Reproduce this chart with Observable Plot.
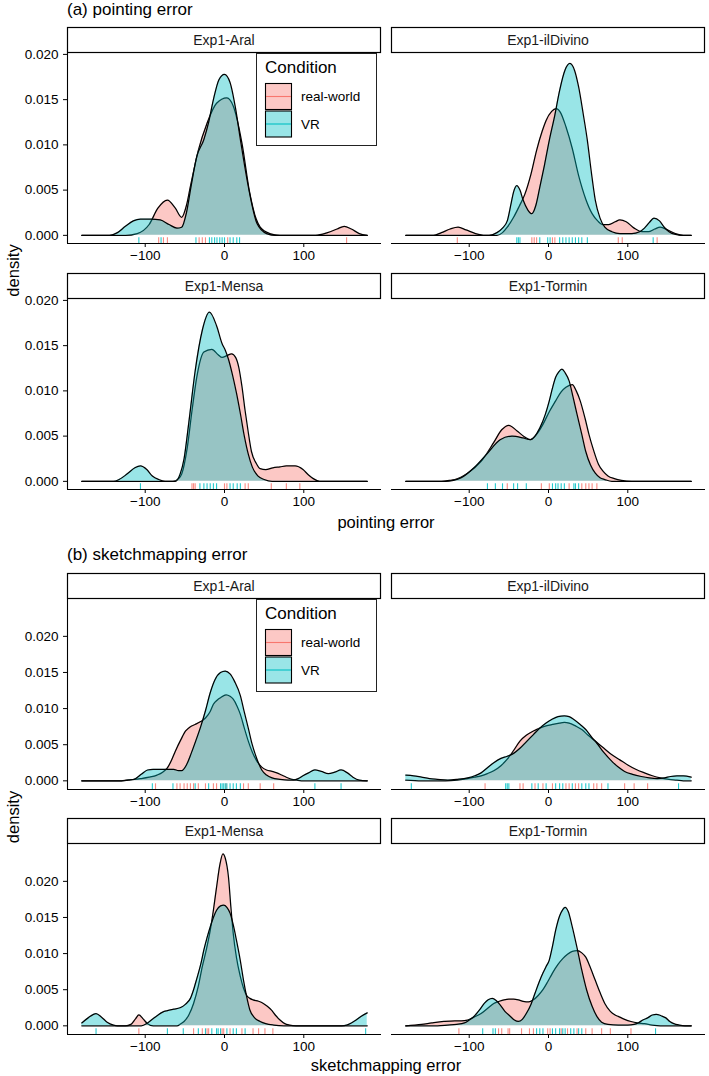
<!DOCTYPE html>
<html><head><meta charset="utf-8">
<script src="https://cdn.jsdelivr.net/npm/d3@7"></script>
<script src="https://cdn.jsdelivr.net/npm/@observablehq/plot@0.6"></script>
<style>
body{margin:0;background:#fff;}
#root{position:relative;width:709px;height:1076px;overflow:hidden;background:#fff;font-family:"Liberation Sans",Arial,Helvetica,sans-serif;}
.cell{position:absolute;}
#overlay{position:absolute;left:0;top:0;pointer-events:none;}
</style></head>
<body><div id="root"></div>
<script>
// ---------- data ----------
const sites = ["Exp1-Aral", "Exp1-ilDivino", "Exp1-Mensa", "Exp1-Tormin"];
const conditions = ["real-world", "VR"];
const conditionColors = ["#F8766D", "#00BFC4"];
const panelTitles = ["(a) pointing error", "(b) sketchmapping error"];
const xTitles = ["pointing error", "sketchmapping error"];
const yTitle = "density";
const xTicks = [-100, 0, 100];
const yTicks = [0, 0.005, 0.010, 0.015, 0.020];

// density curves: [error, density]
const pointingAralRW = [[-180,0],[-125,0],[-110,0.0002],[-95,0.0012],[-84,0.0030],[-72,0.0039],[-62,0.0030],[-54,0.0020],[-48,0.0033],[-43,0.0054],[-33,0.0094],[-22,0.0124],[-10,0.0146],[3,0.0152],[11,0.0143],[22,0.0102],[32,0.0046],[40,0.0018],[45,0.0009],[57,0.0002],[70,0],[115,0],[130,0.0003],[142,0.0007],[151,0.0010],[160,0.0007],[170,0.0002],[180,0]];
const pointingAralVR = [[-180,0],[-145,0],[-135,0.0003],[-125,0.0010],[-115,0.0016],[-106,0.0018],[-93,0.0018],[-81,0.0017],[-70,0.0012],[-60,0.0008],[-54,0.0009],[-48,0.0025],[-42,0.0055],[-35,0.0087],[-26,0.0106],[-20,0.0125],[-14,0.0150],[-7,0.0172],[0,0.0178],[7,0.0169],[14,0.0140],[20,0.0106],[30,0.0054],[41,0.0013],[53,0.0002],[65,0],[180,0]];
const pointingIlDivinoRW = [[-180,0],[-145,0],[-135,0.0003],[-124,0.0007],[-114,0.0009],[-104,0.0006],[-92,0.0002],[-80,0],[-65,0],[-58,0.0003],[-52,0.0009],[-44,0.0020],[-37,0.0032],[-30,0.0045],[-22,0.0068],[-15,0.0094],[-8,0.0115],[-3,0.0127],[4,0.0137],[9.5,0.0140],[15,0.0136],[22,0.0120],[30,0.0096],[38,0.0066],[47,0.0040],[55,0.0024],[62,0.0016],[68,0.0012],[76,0.0012],[84,0.0015],[90,0.0017],[98,0.0015],[108,0.0008],[118,0.0004],[126,0.0004],[134,0.0007],[141,0.0009],[150,0.0006],[160,0.0002],[170,0],[180,0]];
const pointingIlDivinoVR = [[-180,0],[-75,0],[-65,0.0003],[-58,0.0008],[-52,0.0016],[-47,0.0036],[-44,0.0048],[-40,0.0055],[-36,0.0050],[-32,0.0039],[-26,0.0028],[-21,0.0024],[-16,0.0033],[-11,0.0053],[-5,0.0078],[1,0.0105],[8,0.0133],[14,0.0160],[21,0.0183],[27,0.0190],[33,0.0182],[38,0.0164],[44,0.0133],[49,0.0105],[54,0.0070],[59,0.0039],[65,0.0019],[71,0.0009],[80,0.0004],[90,0.0002],[105,0.0002],[115,0.0004],[121,0.0008],[127,0.0014],[133,0.0019],[140,0.0016],[146,0.0009],[152,0.0004],[160,0.0001],[170,0],[180,0]];
const pointingMensaRW = [[-180,0],[-65,0],[-58,0.0003],[-54,0.0008],[-47,0.0037],[-41,0.0078],[-35,0.0115],[-26,0.0143],[-16,0.0146],[-8,0.0140],[-3,0.0137],[3,0.0139],[9,0.0141],[14,0.0137],[18,0.0126],[22,0.0105],[26,0.0078],[30,0.0054],[34,0.0033],[40,0.0020],[45,0.0014],[52,0.0013],[61,0.0015],[70,0.0016],[78,0.0017],[89,0.0017],[99,0.0013],[106,0.0007],[112,0.0003],[120,0],[180,0]];
const pointingMensaVR = [[-180,0],[-140,0],[-133,0.0002],[-123,0.0008],[-113,0.0015],[-106,0.0017],[-98,0.0013],[-91,0.0006],[-83,0.0002],[-75,0],[-62,0],[-56,0.0008],[-51,0.0025],[-45,0.0065],[-37,0.0122],[-28,0.0167],[-19,0.0187],[-10,0.0172],[-3,0.0152],[1,0.0145],[5,0.0135],[10,0.0118],[15,0.0098],[20,0.0075],[25,0.0050],[30,0.0030],[35,0.0016],[42,0.0006],[50,0.0002],[60,0],[180,0]];
const pointingTorminRW = [[-180,0],[-135,0],[-125,0.0001],[-118,0.0002],[-102,0.0009],[-85,0.0022],[-69,0.0043],[-59,0.0057],[-50,0.0062],[-40,0.0056],[-30,0.0049],[-23,0.0046],[-15,0.0052],[-7,0.0063],[1,0.0077],[9,0.0089],[16,0.0099],[22,0.0104],[30,0.0107],[35,0.0100],[40,0.0089],[46,0.0070],[51,0.0052],[57,0.0034],[63,0.0019],[69,0.0011],[75,0.0006],[83,0.0003],[92,0.0001],[105,0],[180,0]];
const pointingTorminVR = [[-180,0],[-130,0],[-120,0.0001],[-110,0.0004],[-94,0.0015],[-77,0.0031],[-61,0.0046],[-46,0.0050],[-32,0.0048],[-23,0.0046],[-11,0.0059],[-4,0.0074],[1,0.0089],[5,0.0103],[9,0.0115],[13,0.0121],[17,0.0124],[21,0.0120],[26,0.0111],[31,0.0093],[36,0.0074],[42,0.0052],[47,0.0033],[53,0.0018],[59,0.0009],[65,0.0004],[71,0.0002],[80,0],[180,0]];

const sketchAralRW = [[-180,0],[-130,0],[-123,0.0001],[-106,0.0003],[-95,0.0005],[-85,0.0008],[-78,0.0012],[-72,0.0018],[-67,0.0028],[-62,0.0041],[-55,0.0057],[-49,0.0069],[-43,0.0075],[-37,0.0078],[-30,0.0082],[-24,0.0087],[-18,0.0096],[-14,0.0106],[-9,0.0112],[-5,0.0115],[2,0.0119],[7,0.0117],[11,0.0113],[16,0.0103],[20,0.0092],[25,0.0073],[30,0.0055],[35,0.0040],[41,0.0027],[47,0.0019],[53,0.0015],[60,0.0013],[66,0.0011],[72,0.0008],[78,0.0005],[85,0.0002],[91,0.0001],[100,0],[180,0]];
const sketchAralVR = [[-180,0],[-130,0],[-120,0.0001],[-114,0.0002],[-105,0.0009],[-97,0.0015],[-90,0.0016],[-80,0.0016],[-72,0.0016],[-64,0.0016],[-58,0.0014],[-54,0.0014],[-48,0.0022],[-42,0.0038],[-36,0.0056],[-30,0.0075],[-24,0.0097],[-18,0.0122],[-12,0.0140],[-5,0.0150],[1,0.0152],[7,0.0148],[13,0.0137],[20,0.0118],[25,0.0095],[30,0.0073],[35,0.0050],[41,0.0030],[47,0.0015],[53,0.0008],[60,0.0004],[70,0.0002],[80,0.0001],[87,0.0001],[93,0.0003],[99,0.0007],[106,0.0011],[114,0.0015],[122,0.0013],[131,0.0010],[139,0.0012],[147,0.0015],[155,0.0011],[162,0.0005],[170,0.0001],[180,0]];
const sketchIlDivinoRW = [[-180,0.0001],[-160,0],[-130,0],[-115,0.0001],[-102,0.0003],[-93,0.0005],[-85,0.0007],[-77,0.0010],[-69,0.0014],[-60,0.0021],[-52,0.0030],[-44,0.0042],[-36,0.0055],[-28,0.0063],[-19,0.0069],[-11,0.0073],[-3,0.0076],[5,0.0078],[14,0.0080],[20,0.0081],[26,0.0080],[34,0.0076],[42,0.0071],[50,0.0063],[59,0.0055],[70,0.0045],[80,0.0036],[90,0.0029],[100,0.0022],[110,0.0016],[121,0.0011],[131,0.0007],[141,0.0004],[152,0.0002],[162,0.0001],[170,0],[180,0]];
const sketchIlDivinoVR = [[-180,0.0008],[-170,0.0007],[-160,0.0005],[-150,0.0003],[-140,0.0002],[-127,0.0001],[-115,0.0002],[-102,0.0004],[-93,0.0007],[-85,0.0011],[-77,0.0018],[-69,0.0025],[-60,0.0031],[-52,0.0034],[-44,0.0038],[-36,0.0045],[-28,0.0054],[-19,0.0064],[-11,0.0073],[-3,0.0080],[4,0.0085],[12,0.0089],[20,0.0090],[26,0.0089],[32,0.0085],[40,0.0078],[47,0.0071],[54,0.0061],[61,0.0052],[70,0.0039],[80,0.0027],[88,0.0019],[96,0.0013],[106,0.0009],[117,0.0006],[127,0.0004],[137,0.0003],[146,0.0004],[154,0.0006],[162,0.0007],[170,0.0007],[180,0.0005]];
const sketchMensaRW = [[-180,0],[-125,0],[-118,0.0002],[-112,0.0010],[-108,0.0015],[-103,0.0010],[-97,0.0003],[-90,0],[-60,0],[-55,0.0003],[-51,0.0006],[-45,0.0015],[-39,0.0031],[-33,0.0055],[-28,0.0082],[-23,0.0105],[-18,0.0132],[-14,0.0160],[-10,0.0192],[-6,0.0222],[-2,0.0238],[1,0.0232],[5,0.0206],[8,0.0165],[11,0.0128],[15,0.0095],[20,0.0068],[24,0.0052],[28,0.0042],[32,0.0038],[36,0.0036],[43,0.0034],[49,0.0031],[54,0.0027],[59,0.0022],[64,0.0015],[70,0.0008],[76,0.0003],[82,0.0001],[90,0],[180,0]];
const sketchMensaVR = [[-180,0.0004],[-172,0.0011],[-162,0.0017],[-155,0.0012],[-148,0.0005],[-140,0.0001],[-135,0],[-105,0],[-97,0.0004],[-91,0.0009],[-85,0.0014],[-78,0.0019],[-72,0.0021],[-64,0.0023],[-56,0.0025],[-49,0.0030],[-43,0.0038],[-39,0.0050],[-35,0.0065],[-30,0.0085],[-26,0.0105],[-22,0.0122],[-18,0.0137],[-14,0.0150],[-10,0.0160],[-5,0.0166],[-1,0.0167],[3,0.0164],[7,0.0156],[11,0.0140],[15,0.0119],[20,0.0090],[24,0.0063],[28,0.0040],[32,0.0022],[38,0.0011],[45,0.0006],[52,0.0003],[62,0.0001],[75,0],[148,0],[154,0.0001],[160,0.0004],[166,0.0008],[172,0.0013],[180,0.0018]];
const sketchTorminRW = [[-180,0],[-160,0.0002],[-147,0.0004],[-132,0.0006],[-118,0.0007],[-110,0.0007],[-102,0.0008],[-94,0.0012],[-85,0.0017],[-77,0.0024],[-69,0.0031],[-62,0.0034],[-56,0.0036],[-50,0.0037],[-44,0.0037],[-38,0.0036],[-32,0.0034],[-25,0.0033],[-19,0.0036],[-13,0.0042],[-7,0.0050],[-1,0.0061],[5,0.0073],[12,0.0085],[18,0.0093],[24,0.0099],[30,0.0103],[36,0.0104],[42,0.0101],[47,0.0095],[53,0.0080],[59,0.0063],[65,0.0046],[71,0.0031],[78,0.0020],[84,0.0015],[88,0.0013],[96,0.0009],[104,0.0006],[112,0.0004],[121,0.0003],[131,0.0001],[141,0],[180,0]];
const sketchTorminVR = [[-180,0],[-140,0],[-127,0.0001],[-116,0.0002],[-106,0.0004],[-100,0.0008],[-94,0.0013],[-87,0.0022],[-81,0.0031],[-76,0.0036],[-71,0.0038],[-66,0.0035],[-61,0.0029],[-55,0.0020],[-48,0.0013],[-43,0.0008],[-38,0.0006],[-33,0.0009],[-28,0.0017],[-22,0.0030],[-17,0.0045],[-12,0.0060],[-7,0.0073],[-3,0.0082],[1,0.0091],[5,0.0110],[9,0.0132],[14,0.0152],[18,0.0161],[21,0.0164],[25,0.0158],[30,0.0137],[36,0.0108],[42,0.0077],[48,0.0050],[55,0.0027],[61,0.0013],[67,0.0005],[75,0.0002],[88,0.0001],[100,0.0001],[108,0.0002],[113,0.0004],[119,0.0008],[125,0.0011],[131,0.0015],[136,0.0016],[142,0.0014],[148,0.0011],[153,0.0006],[158,0.0003],[165,0.0001],[172,0],[180,0]];

const pointingAralRugRW = [-83,-77,-72,-32,-28,-24,4,154];
const pointingAralRugVR = [-108,-80,-36,-19,-16,-12.5,-9.5,-6,-3,0,7,11,15.5,19];
const pointingIlDivinoRugRW = [-115,-21,-18,-15,5,8,88,93,137];
const pointingIlDivinoRugVR = [-40,-38,-36,-11,-1,2,14,18,22,26,30,34,38,42,49,132];
const pointingMensaRugRW = [-41,-39,-37,0,3,26,30,59,78,95];
const pointingMensaRugVR = [-106,-31,-26,-22,-18,-14,-10,7,11,16,20];
const pointingTorminRugRW = [-52,-9,1,26,42,47,51,55,61];
const pointingTorminRugVR = [-77,-67,-58,-44,-39,-28,5,9,12,16,20,32,34,38];
const sketchAralRugRW = [-87,-60,-56,-51,-47,-43,-39,-33,-24,-14,-10,2,24,30,45,62];
const sketchAralRugVR = [-91,-65,-37,-20,-5,-3,-1,1,3,7,11,15,20,114,147];
const sketchIlDivinoRugRW = [-80,-36,-32,-17,-7,5,22,26,34,38,57,61,67,96,108,125];
const sketchIlDivinoRugVR = [-173,-54,-52,-50,-21,-13,-3,9,14,18,30,42,47,51,75,164];
const sketchMensaRugRW = [-108,-39,-28,-22,-20,-3,-1,7,22,36,43,51,61];
const sketchMensaRugVR = [-162,-72,-52,-33,-24,-16,-10,-8,-5,3,11,15,26,178];
const sketchTorminRugRW = [-113,-63,-59,-51,-49,-34,-24,-19,-1,2,16,24,36,47,55,67,78,104];
const sketchTorminRugVR = [-83,-70,-67,-15,-11,-7,5,9,14,18,21,28,32,38,42,135];

// ---------- layout ----------
const FONT = '"Liberation Sans", Arial, Helvetica, sans-serif';
const xDomain = [-198, 198];
const yDomains = [[-0.0009, 0.0201], [-0.0012, 0.0251]];
const panelTops = [[53, 299], [599, 844]];
const PANEL_H = 190;
const colLeft = [{svgLeft: 0, width: 385, ml: 67, mr: 4, x0: 67, x1: 381}, {svgLeft: 385, width: 324, ml: 6, mr: 4, x0: 391, x1: 705}];

const curveSets = [
  [[pointingAralRW, pointingAralVR, pointingAralRugRW, pointingAralRugVR],
   [pointingIlDivinoRW, pointingIlDivinoVR, pointingIlDivinoRugRW, pointingIlDivinoRugVR],
   [pointingMensaRW, pointingMensaVR, pointingMensaRugRW, pointingMensaRugVR],
   [pointingTorminRW, pointingTorminVR, pointingTorminRugRW, pointingTorminRugVR]],
  [[sketchAralRW, sketchAralVR, sketchAralRugRW, sketchAralRugVR],
   [sketchIlDivinoRW, sketchIlDivinoVR, sketchIlDivinoRugRW, sketchIlDivinoRugVR],
   [sketchMensaRW, sketchMensaVR, sketchMensaRugRW, sketchMensaRugVR],
   [sketchTorminRW, sketchTorminVR, sketchTorminRugRW, sketchTorminRugVR]]
];

const root = document.getElementById("root");

function facetPlot(set, yDomain, col) {
  const [rw, vr, rugRW, rugVR] = set;
  const c = colLeft[col];
  const rugTop = yDomain[0] + 0.03 * (yDomain[1] - yDomain[0]);
  const marks = [];
  [[rw, 0], [vr, 1]].forEach(([data, k]) => {
    marks.push(Plot.areaY(data, {x: d => d[0], y: d => d[1], curve: "monotone-x", fill: conditionColors[k], fillOpacity: 0.4}));
    marks.push(Plot.line(data, {x: d => d[0], y: d => d[1], curve: "monotone-x", stroke: "black", strokeWidth: 1.25}));
  });
  [[rugRW, 0], [rugVR, 1]].forEach(([vals, k]) => {
    marks.push(Plot.ruleX(vals, {x: d => d, y1: yDomain[0], y2: rugTop, stroke: conditionColors[k], strokeWidth: 1.1, strokeOpacity: 0.85}));
  });
  marks.push(Plot.ruleY([yDomain[0]], {stroke: "black", strokeWidth: 1.1}));
  marks.push(Plot.axisX(xTicks, {tickSize: 4, tickPadding: 3, label: null, fill: "black", stroke: "black", fontSize: 13.5}));
  if (col === 0) {
    marks.push(Plot.ruleX([xDomain[0]], {stroke: "black", strokeWidth: 1.1}));
    marks.push(Plot.axisY(yTicks, {tickSize: 4, tickPadding: 5, label: null, tickFormat: d3.format(".3f"), fill: "black", stroke: "black", fontSize: 13.5}));
  }
  return Plot.plot({
    width: c.width, height: 1 + PANEL_H + 25,
    marginLeft: c.ml, marginRight: c.mr, marginTop: 1, marginBottom: 25,
    x: {domain: xDomain, axis: null},
    y: {domain: yDomain, axis: null},
    style: {fontFamily: FONT, fontSize: "13.5px", color: "black", background: "transparent", overflow: "visible"},
    marks
  });
}

for (let m = 0; m < 2; m++) {
  for (let i = 0; i < 4; i++) {
    const row = Math.floor(i / 2), col = i % 2;
    const top = panelTops[m][row];
    const div = document.createElement("div");
    div.className = "cell";
    div.style.left = colLeft[col].svgLeft + "px";
    div.style.top = (top - 1) + "px";
    div.appendChild(facetPlot(curveSets[m][i], yDomains[m], col));
    root.appendChild(div);
  }
}

// ---------- overlay: strips, titles, legends ----------
const ov = d3.select(root).append("svg").attr("id", "overlay").attr("width", 709).attr("height", 1076)
  .style("font-family", FONT);

for (let m = 0; m < 2; m++) {
  for (let i = 0; i < 4; i++) {
    const row = Math.floor(i / 2), col = i % 2;
    const top = panelTops[m][row] - 26;
    const c = colLeft[col];
    ov.append("rect").attr("x", c.x0 + 0.5).attr("y", top + 0.5).attr("width", c.x1 - c.x0 - 1).attr("height", 25)
      .attr("fill", "white").attr("stroke", "black").attr("stroke-width", 1.2);
    ov.append("text").attr("x", (c.x0 + c.x1) / 2).attr("y", top + 18).attr("text-anchor", "middle")
      .attr("font-size", 14).attr("fill", "#1a1a1a").text(sites[i]);
  }
  ov.append("text").attr("x", 67).attr("y", m === 0 ? 15 : 560).attr("font-size", 17).attr("fill", "black").text(panelTitles[m]);
  ov.append("text").attr("x", 386).attr("y", m === 0 ? 528 : 1071).attr("text-anchor", "middle").attr("font-size", 16.5).attr("fill", "black").text(xTitles[m]);
  const yc = m === 0 ? 270.5 : 817;
  ov.append("text").attr("transform", `translate(19,${yc}) rotate(-90)`).attr("text-anchor", "middle").attr("font-size", 16.5).attr("fill", "black").text(yTitle);
  const lt = panelTops[m][0];
  const g = ov.append("g");
  g.append("rect").attr("x", 256.5).attr("y", lt + 0.5).attr("width", 120).attr("height", 92).attr("fill", "white").attr("stroke", "#222").attr("stroke-width", 1);
  g.append("text").attr("x", 265).attr("y", lt + 19.5).attr("font-size", 17).attr("fill", "black").text("Condition");
  conditions.forEach((cond, k) => {
    const ky = lt + 30 + k * 27.5;
    g.append("rect").attr("x", 265.5).attr("y", ky + 0.5).attr("width", 26).attr("height", 26)
      .attr("fill", conditionColors[k]).attr("fill-opacity", 0.4).attr("stroke", "black").attr("stroke-width", 1.1);
    g.append("line").attr("x1", 266).attr("x2", 291).attr("y1", ky + 13.5).attr("y2", ky + 13.5)
      .attr("stroke", conditionColors[k]).attr("stroke-width", 1.1);
    g.append("text").attr("x", 301).attr("y", ky + 18.3).attr("font-size", 13.5).attr("fill", "black").text(cond);
  });
}
</script></body></html>
